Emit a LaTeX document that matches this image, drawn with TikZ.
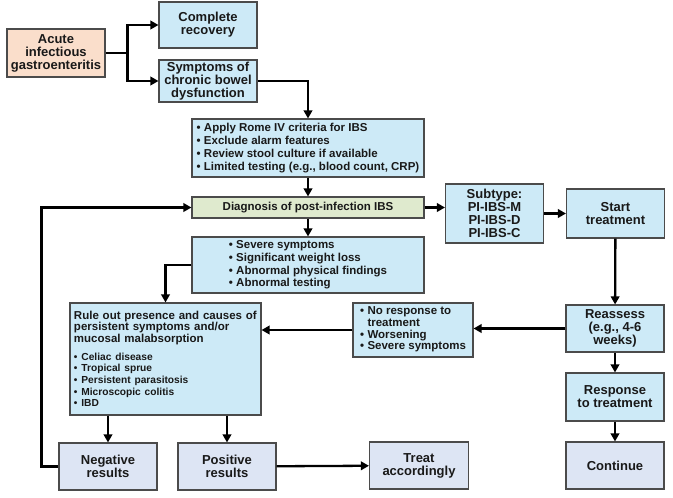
\documentclass[tikz,border=0pt]{standalone}
\usepackage{fontspec}
\setmainfont{Liberation Sans}
\usepackage{tikz}
\usetikzlibrary{arrows.meta, positioning}
\definecolor{boxblue}{RGB}{205, 234, 247}
\definecolor{boxpeach}{RGB}{250, 222, 203}
\definecolor{boxgreen}{RGB}{223, 234, 206}
\definecolor{boxlav}{RGB}{221, 229, 244}
\definecolor{boxedge}{RGB}{75, 75, 75}
\definecolor{inktext}{RGB}{25, 25, 25}

\begin{document}
\begin{tikzpicture}[x=1pt, y=-1pt,
  box/.style={rectangle, draw=boxedge, line width=1.1pt, fill=boxblue, align=center,
              text=inktext, font=\fontsize{13}{13}\selectfont\bfseries, inner xsep=2pt, inner ysep=1pt,
              minimum width=98pt, minimum height=47pt},
  list/.style={box, font=\fontsize{11.5}{12.8}\selectfont\bfseries, align=left, inner xsep=4pt},
  arr/.style={-{Triangle[length=8pt, width=8.5pt]}, line width=2.3pt, black},
  link/.style={line width=2.3pt, black}
]
\useasboundingbox (0,0) rectangle (673,498);

\node[box, fill=boxpeach, minimum height=48pt] (acute) at (56,53) {Acute\\infectious\\gastroenteritis};
\node[box, minimum height=46pt] (complete) at (208,25) {Complete\\recovery};
\node[box, minimum height=42pt] (symptoms) at (208,81) {Symptoms of\\chronic bowel\\dysfunction};

\node[list, minimum width=232pt, minimum height=58pt] (criteria) at (308,148) {
  \textbullet\ Apply Rome IV criteria for IBS\\
  \textbullet\ Exclude alarm features\\
  \textbullet\ Review stool culture if available\\
  \textbullet\ Limited testing (e.g., blood count, CRP)
};
\node[list, fill=boxgreen, align=center, minimum width=232pt, minimum height=21pt] (diagnosis) at (308,207.5) {Diagnosis of post-infection IBS};
\node[list, minimum width=232pt, minimum height=56pt] (severe) at (308,265) {
  \textbullet\ Severe symptoms\\
  \textbullet\ Significant weight loss\\
  \textbullet\ Abnormal physical findings\\
  \textbullet\ Abnormal testing
};

\node[box, minimum height=59pt] (subtype) at (494.5,213.5) {Subtype:\\PI-IBS-M\\PI-IBS-D\\PI-IBS-C};
\node[box, minimum height=49pt] (start) at (615.5,213.5) {Start\\treatment};
\node[box] (reassess) at (615,328.5) {Reassess\\(e.g., 4-6\\weeks)};
\node[box, minimum height=48pt] (response) at (615,397) {Response\\to treatment};
\node[box, fill=boxlav] (continue) at (615,465.5) {Continue};

\node[list, font=\fontsize{11.5}{11.5}\selectfont\bfseries, text width=183pt, minimum height=112pt] (ruleout) at (165.5,359) {
  Rule out presence and causes of\\ persistent symptoms and/or\\ mucosal malabsorption\par
  \vspace{6pt}
  {\fontsize{10.2}{11.7}\selectfont
  \textbullet\ Celiac disease\\
  \textbullet\ Tropical sprue\\
  \textbullet\ Persistent parasitosis\\
  \textbullet\ Microscopic colitis\\
  \textbullet\ IBD\par}
};
\node[list, font=\fontsize{11.5}{11.5}\selectfont\bfseries, minimum width=120pt, minimum height=54pt] (noresp) at (413,330) {%
  \begin{tabular}{@{}l@{\hspace{3.5pt}}l@{}}
  \textbullet & No response to\\
              & treatment\\
  \textbullet & Worsening\\
  \textbullet & Severe symptoms
  \end{tabular}%
};

\node[box, fill=boxlav] (negative) at (108,466.5) {Negative\\results};
\node[box, fill=boxlav] (positive) at (227,466.5) {Positive\\results};
\node[box, fill=boxlav, minimum width=99pt] (treat) at (419,465.5) {Treat\\accordingly};

% connectors
\draw[link] (acute.east) -- ++(22,0) coordinate (split);
\draw[arr] (split) |- (complete.west);
\draw[arr] (split) |- (symptoms.west);
\draw[arr] (symptoms.east) -| (criteria.north);
\draw[arr] (criteria) -- (diagnosis);
\draw[arr] (diagnosis) -- (severe);
\draw[arr] (diagnosis.east) -- (diagnosis.east -| subtype.west);
\draw[arr] (subtype) -- (start);
\draw[arr] (start) -- (reassess);
\draw[arr] (reassess) -- (response);
\draw[arr] (response) -- (continue);
\draw[arr] (reassess.west) -- (reassess.west -| noresp.east);
\draw[arr] (noresp.west) -- (noresp.west -| ruleout.east);
\draw[arr] (severe.west) -| (ruleout.north);
\draw[arr] (ruleout.south -| negative.north) -- (negative.north);
\draw[arr] (ruleout.south -| positive.north) -- (positive.north);
\draw[arr] (positive) -- (treat);
\draw[arr] (negative.west) -- ++(-17,0) |- (diagnosis.west);
\end{tikzpicture}
\end{document}
